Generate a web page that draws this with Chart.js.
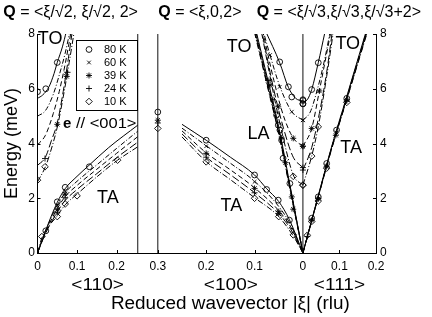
<!DOCTYPE html>
<html>
<head>
<meta charset="utf-8">
<script src="https://cdn.jsdelivr.net/npm/chart.js"></script>
<style>
  html, body { margin: 0; padding: 0; background: #fff; }
</style>
</head>
<body>
<canvas id="grafico" width="432" height="317"></canvas>
<script>
const temperatures = ["80 K", "60 K", "39 K", "24 K", "10 K"];

// tick labels (reduced wavevector, rlu) for the three panels, and energy ticks
const ticks110 = [0, 0.1, 0.2];
const ticks100 = [0.3, 0.2, 0.1];
const ticks111 = [0, 0.1, 0.2];
const energyTicks = [0, 2, 4, 6, 8];

// dispersion curves [xi, E meV], one list per temperature (80, 60, 39, 24, 10 K)
const curveTO110 = [
  [[0, 5.65], [0.013, 5.77], [0.029, 6.07], [0.042, 6.56], [0.05, 6.96], [0.063, 7.53], [0.073, 8.1]],
  [[0, 5.0], [0.02, 5.2], [0.04, 5.8], [0.055, 6.5], [0.07, 7.3], [0.082, 8.1]],
  [[0, 3.95], [0.02, 4.3], [0.04, 5.1], [0.055, 5.9], [0.07, 6.9], [0.085, 8.1]],
  [[0, 3.2], [0.02, 3.5], [0.035, 4.1], [0.05, 4.75], [0.065, 5.9], [0.078, 7.1], [0.088, 8.1]],
  [[0, 2.6], [0.02, 3.15], [0.035, 3.8], [0.05, 4.6], [0.065, 5.7], [0.08, 6.95], [0.093, 8.1]]
];
const curveTA110 = [
  [[0, 0], [0.02, 0.8], [0.05, 1.85], [0.07, 2.35], [0.1, 2.8], [0.13, 3.2], [0.18, 3.85], [0.2535, 4.67]],
  [[0, 0], [0.02, 0.78], [0.05, 1.75], [0.07, 2.2], [0.1, 2.62], [0.15, 3.22], [0.2, 3.82], [0.2535, 4.45]],
  [[0, 0], [0.02, 0.75], [0.05, 1.62], [0.07, 2.06], [0.1, 2.47], [0.15, 3.06], [0.2, 3.64], [0.2535, 4.25]],
  [[0, 0], [0.02, 0.7], [0.05, 1.5], [0.07, 1.92], [0.1, 2.32], [0.15, 2.9], [0.2, 3.48], [0.2535, 4.05]],
  [[0, 0], [0.011, 0.55], [0.05, 1.36], [0.07, 1.76], [0.1, 2.15], [0.15, 2.78], [0.2025, 3.39], [0.2535, 3.88]]
];
const curveTA100 = [
  [[0.25, 4.7], [0.2, 4.12], [0.15, 3.5], [0.1, 2.85], [0.075, 2.35], [0.05, 1.88], [0.028, 1.22], [0, 0]],
  [[0.25, 4.56], [0.2, 3.92], [0.15, 3.28], [0.1, 2.62], [0.05, 1.7], [0.025, 1.02], [0, 0]],
  [[0.25, 4.46], [0.2, 3.66], [0.15, 3.04], [0.1, 2.38], [0.05, 1.55], [0.025, 0.94], [0, 0]],
  [[0.25, 4.35], [0.2, 3.5], [0.15, 2.86], [0.1, 2.2], [0.05, 1.44], [0.025, 0.86], [0, 0]],
  [[0.25, 4.24], [0.2, 3.34], [0.15, 2.68], [0.1, 2.02], [0.05, 1.33], [0.02, 0.62], [0, 0]]
];
const curveLA100 = [
  [[0, 0], [0.027, 2.5], [0.05, 4.6], [0.075, 6.5], [0.096, 8.05]],
  [[0, 0], [0.027, 2.45], [0.05, 4.5], [0.075, 6.4], [0.097, 8.05]],
  [[0, 0], [0.027, 2.42], [0.05, 4.45], [0.075, 6.33], [0.098, 8.05]],
  [[0, 0], [0.027, 2.38], [0.05, 4.4], [0.075, 6.25], [0.099, 8.05]],
  [[0, 0], [0.027, 2.35], [0.05, 4.35], [0.075, 6.2], [0.1, 8.05]]
];
const curveTO100 = [
  [[0, 5.55], [0.015, 5.65], [0.03, 6.05], [0.048, 6.95], [0.077, 8.1]],
  [[0, 4.85], [0.023, 5.16], [0.048, 6.1], [0.068, 7.23], [0.082, 8.1]],
  [[0, 3.9], [0.02, 4.2], [0.04, 5.0], [0.06, 6.3], [0.083, 8.1]],
  [[0, 3.12], [0.02, 3.5], [0.04, 4.55], [0.06, 5.95], [0.085, 8.1]],
  [[0, 2.48], [0.02, 2.85], [0.04, 4.15], [0.06, 5.75], [0.086, 8.1]]
];
const curveTA111 = [
  [[0, 0], [0.04, 2.0], [0.08, 3.95], [0.12, 5.72], [0.172, 8.05]],
  [[0, 0], [0.04, 1.98], [0.08, 3.92], [0.12, 5.68], [0.173, 8.05]],
  [[0, 0], [0.04, 1.97], [0.08, 3.9], [0.12, 5.65], [0.174, 8.05]],
  [[0, 0], [0.04, 1.96], [0.08, 3.88], [0.12, 5.62], [0.175, 8.05]],
  [[0, 0], [0.04, 1.95], [0.08, 3.86], [0.12, 5.6], [0.176, 8.05]]
];
const curveTO111 = [
  [[0, 5.52], [0.012, 5.6], [0.024, 5.97], [0.042, 6.95], [0.06, 8.05]],
  [[0, 4.85], [0.02, 5.15], [0.04, 6.0], [0.06, 7.1], [0.074, 8.05]],
  [[0, 3.9], [0.024, 4.55], [0.045, 5.92], [0.06, 6.95], [0.076, 8.05]],
  [[0, 3.03], [0.024, 3.85], [0.045, 5.1], [0.065, 6.6], [0.08, 8.05]],
  [[0, 2.48], [0.024, 3.54], [0.042, 4.61], [0.065, 6.45], [0.083, 8.05]]
];

// measured points [xi, E meV], one list per temperature
const pts110 = [
  [[0, 5.89], [0.021, 6.0], [0.05, 6.96], [0.021, 0.81], [0.05, 1.87], [0.07, 2.4], [0.131, 3.15]],
  [[0.072, 6.56], [0.05, 1.72], [0.07, 2.25]],
  [[0.05, 4.7], [0.074, 6.45], [0.05, 1.58], [0.07, 2.15]],
  [[0.019, 3.45], [0.076, 6.6], [0.05, 1.47], [0.07, 2.02]],
  [[0, 2.66], [0.019, 3.15], [0.011, 0.6], [0.05, 1.33], [0.07, 1.79], [0.1, 2.09], [0.2025, 3.39]]
];
const pts100 = [
  [[0.3, 5.15], [0.2, 4.12], [0.1, 2.85], [0.075, 2.32], [0.051, 1.93], [0.028, 1.2], [0, 5.45], [0, 5.6],
   [0.023, 5.7], [0.03, 6.07], [0.048, 6.98], [0.0545, 5.04], [0.051, 4.67], [0.0476, 4.49], [0.044, 4.12],
   [0.041, 3.46], [0.027, 2.54]],
  [[0.2, 3.9], [0.1, 2.6], [0, 4.85], [0.023, 5.16], [0.048, 6.07], [0.068, 7.23]],
  [[0.3, 4.85], [0.2, 3.64], [0.1, 2.36], [0.05, 1.51], [0, 3.9], [0.02, 4.19], [0.051, 5.34], [0.072, 6.3],
   [0.068, 6.13], [0.044, 4.2], [0.036, 3.3], [0.023, 2.05], [0.02, 1.6]],
  [[0.3, 4.75], [0.2, 3.5], [0.1, 2.2], [0.05, 1.44], [0, 3.12], [0.062, 5.6]],
  [[0.3, 4.55], [0.2, 3.33], [0.1, 2.0], [0.05, 1.33], [0.02, 0.66], [0, 2.48], [0.02, 2.8]]
];
const pts111 = [
  [[0, 5.45], [0, 5.57], [0.024, 5.97], [0.042, 6.95], [0.024, 1.27], [0.042, 2.05], [0.065, 3.27], [0.092, 4.49], [0.12, 5.65]],
  [[0, 4.85], [0.065, 3.2], [0.092, 4.4]],
  [[0, 3.9], [0.024, 4.55], [0.045, 5.92], [0.024, 1.2], [0.042, 1.98], [0.065, 3.15], [0.09, 4.3], [0.12, 5.6]],
  [[0, 3.03], [0.012, 0.6], [0.042, 2.0], [0.12, 5.55]],
  [[0, 2.48], [0.024, 3.54], [0.042, 4.61], [0.012, 0.65], [0.024, 1.15], [0.042, 1.9], [0.065, 3.1], [0.12, 5.5]]
];

// the three panels share one horizontal axis
const X110_END = 0.2535;   // <110> panel is cut here
const X100_START = 0.3415; // left edge of the <100> panel
const K100 = 1.223, K111 = 0.924;
const u110 = xi => xi;
const u100 = xi => X110_END + (X100_START - xi) * K100;
const u111 = xi => u100(0) + xi * K111;

const xTicks = [
  ...ticks110.map(v => ({ u: u110(v), label: String(v) })),
  ...ticks100.map(v => ({ u: u100(v), label: String(v) })),
  ...ticks111.map(v => ({ u: u111(v), label: String(v) }))
];

const dashes = [[], [5, 2, 1, 2], [5, 3], [8, 3], [6, 2, 1, 2]];
const markers = [
  { style: "circle", r: 2.9 },
  { style: "crossRot", r: 2.6 },
  { style: "star", r: 3 },
  { style: "cross", r: 3 },
  { style: "rectRot", r: 3.3 }
];
const FONT = "'Liberation Sans', Arial, Helvetica, sans-serif";

const conv = (list, map) => list.map(p => ({ x: map(p[0]), y: p[1] }));

const datasets = [];
// panel dividers, full height
[X110_END, u100(0.3), u100(0)].forEach(u => {
  datasets.push({
    data: [{ x: u, y: 0 }, { x: u, y: 8 }],
    showLine: true, borderColor: "#111", borderWidth: 1, pointRadius: 0
  });
});

[[curveTO110, u110], [curveTA110, u110], [curveTA100, u100], [curveLA100, u100],
 [curveTO100, u100], [curveTA111, u111], [curveTO111, u111]].forEach(([curves, map]) => {
  curves.forEach((c, i) => {
    datasets.push({
      data: conv(c, map),
      showLine: true, borderColor: "#000", borderWidth: 1, borderDash: dashes[i],
      pointRadius: 0, cubicInterpolationMode: "monotone"
    });
  });
});

[[pts110, u110], [pts100, u100], [pts111, u111]].forEach(([pts, map]) => {
  pts.forEach((p, i) => {
    datasets.push({
      data: conv(p, map),
      showLine: false, pointStyle: markers[i].style, pointRadius: markers[i].r,
      pointBorderColor: "#000", pointBackgroundColor: "rgba(0,0,0,0)", pointBorderWidth: 0.9
    });
  });
});

function stretchText(ctx, text, x, y, sx, align) {
  ctx.save();
  ctx.translate(x, y);
  ctx.scale(sx, 1);
  ctx.textAlign = align;
  ctx.fillText(text, 0, 0);
  ctx.restore();
}

const decor = {
  id: "decor",
  afterDraw(chart) {
    const { ctx, chartArea: a, scales: { x, y } } = chart;
    const px = u => x.getPixelForValue(u);
    const py = e => y.getPixelForValue(e);
    ctx.save();
    ctx.strokeStyle = "#000";
    ctx.fillStyle = "#000";
    ctx.lineWidth = 1;

    // inward tick marks
    ctx.beginPath();
    xTicks.forEach(t => {
      const p = Math.round(px(t.u)) + 0.5;
      ctx.moveTo(p, a.bottom);
      ctx.lineTo(p, a.bottom - 3);
    });
    energyTicks.forEach(e => {
      const p = Math.round(py(e)) + 0.5;
      ctx.moveTo(a.left, p); ctx.lineTo(a.left + 3, p);
      ctx.moveTo(a.right, p); ctx.lineTo(a.right - 3, p);
    });
    ctx.stroke();

    // branch names
    ctx.textBaseline = "middle";
    ctx.font = "18px " + FONT;
    [["TO", u110(0.032), 7.82], ["TA", u110(0.178), 2.0], ["TO", u100(0.132), 7.54],
     ["LA", u100(0.092), 4.35], ["TA", u100(0.148), 1.72], ["TO", u111(0.1226), 7.63],
     ["TA", u111(0.132), 3.85]].forEach(([t, u, e]) => {
      ctx.textAlign = "center";
      ctx.fillText(t, px(u), py(e));
    });

    // polarisation note
    ctx.font = "bold 15px " + FONT;
    ctx.textAlign = "left";
    let ex = px(u110(0.0645)), ey = py(4.71);
    ctx.fillText("e", ex, ey);
    ex += ctx.measureText("e").width;
    ctx.font = "15px " + FONT;
    stretchText(ctx, " // <001>", ex, ey, 1.1, "left");

    // legend
    const lx = a.left + 38.5, ly = a.top + 5.5;
    ctx.strokeRect(Math.round(lx) + 0.5, Math.round(ly) + 0.5, 61, 70);
    ctx.font = "11px " + FONT;
    ctx.textAlign = "left";
    temperatures.forEach((t, i) => {
      const ry = ly + 10 + i * 13;
      ctx.save();
      ctx.lineWidth = 0.9;
      ctx.fillStyle = "rgba(0,0,0,0)";
      Chart.helpers.drawPoint(ctx, { pointStyle: markers[i].style, radius: markers[i].r, rotation: 0, borderWidth: 0.9 }, lx + 13, ry);
      ctx.restore();
      ctx.fillText(t, lx + 28, ry);
    });

    // direction labels and axis title
    ctx.font = "17px " + FONT;
    [["<110>", u110(0.152)], ["<100>", u100(0.149)], ["<111>", u111(0.1)]].forEach(([t, u]) => {
      stretchText(ctx, t, px(u), a.bottom + 32, 1.12, "center");
    });
    ctx.font = "18px " + FONT;
    stretchText(ctx, "Reduced wavevector |ξ| (rlu)", px(u100(0.15)), a.bottom + 51, 1.05, "center");

    // scattering vectors above the panels
    ctx.textBaseline = "alphabetic";
    [["= <ξ/√2, ξ/√2, 2>", 3.3], ["= <ξ,0,2>", 158.3], ["= <ξ/√3,ξ/√3,ξ/√3+2>", 256.7]].forEach(([t, tx]) => {
      ctx.font = "bold 16px " + FONT;
      ctx.fillText("Q", tx, 16.5);
      const w = ctx.measureText("Q ").width;
      ctx.font = "16px " + FONT;
      ctx.fillText(t, tx + w, 16.5);
    });
    ctx.restore();
  }
};

Chart.defaults.font.family = FONT;
Chart.defaults.color = "#000";

new Chart(document.getElementById("grafico"), {
  type: "scatter",
  data: { datasets },
  plugins: [decor],
  options: {
    responsive: false,
    animation: false,
    layout: { padding: { top: 34, left: 0, right: 0, bottom: 0 } },
    plugins: { legend: { display: false }, tooltip: { enabled: false } },
    scales: {
      x: {
        type: "linear", min: 0, max: u111(0.2),
        grid: { display: false, drawTicks: false },
        border: { display: true, color: "#000", width: 1 },
        afterBuildTicks: axis => { axis.ticks = xTicks.map(t => ({ value: t.u })); },
        afterFit: axis => { axis.height = 64; },
        ticks: {
          autoSkip: false, maxRotation: 0, padding: 6.5,
          font: { size: 12 }, color: "#000",
          callback: (value, index) => xTicks[index] ? xTicks[index].label : ""
        }
      },
      y: {
        type: "linear", position: "left", min: 0, max: 8,
        grid: { display: false, drawTicks: false },
        border: { display: true, color: "#000", width: 1 },
        afterFit: axis => { axis.width = 37.5; },
        title: { display: true, text: "Energy (meV)", font: { size: 18 }, padding: { top: 1, bottom: 0 }, color: "#000" },
        ticks: { stepSize: 2, padding: 2.5, font: { size: 12 }, color: "#000" }
      },
      y2: {
        type: "linear", position: "right", min: 0, max: 8,
        grid: { display: false, drawTicks: false },
        border: { display: true, color: "#000", width: 1 },
        afterFit: axis => { axis.width = 56; },
        ticks: { stepSize: 2, padding: 4, font: { size: 12 }, color: "#000" }
      }
    }
  }
});
</script>
</body>
</html>
